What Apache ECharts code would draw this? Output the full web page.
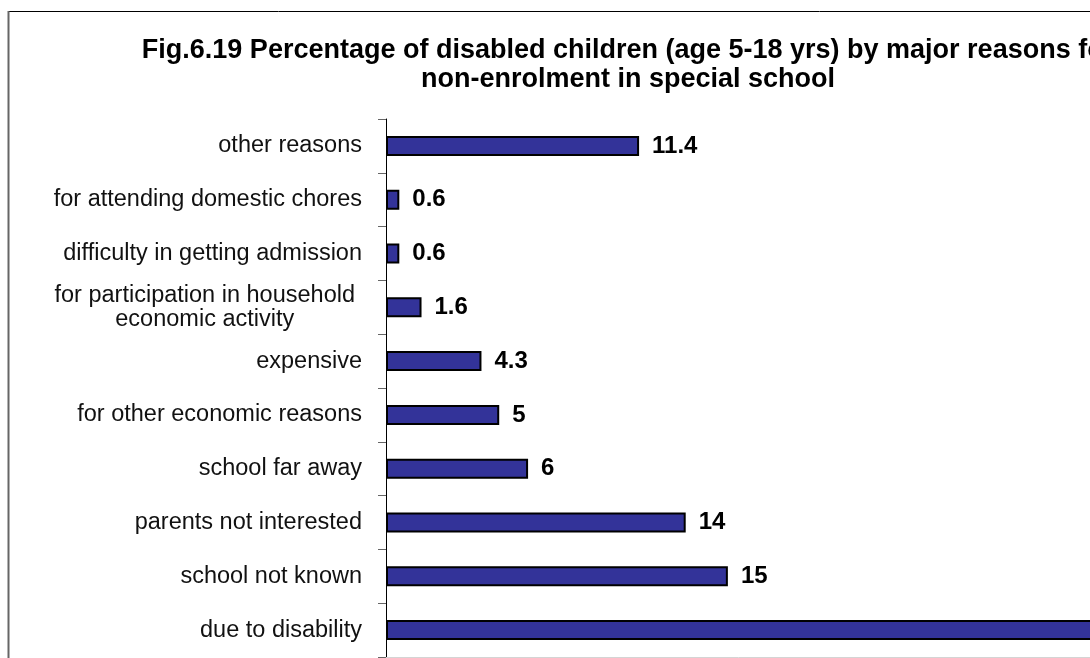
<!DOCTYPE html>
<html>
<head>
<meta charset="utf-8">
<script src="https://cdn.jsdelivr.net/npm/echarts@6/dist/echarts.min.js"></script>
<style>
html,body{margin:0;padding:0;background:#fff;}
#chart{width:1090px;height:658px;}
</style>
</head>
<body>
<div id="chart"></div>
<script>
// Categories listed bottom-to-top (ECharts category axis order for horizontal bars)
var categories = [
  'due to disability',
  'school not known',
  'parents not interested',
  'school far away',
  'for other economic reasons',
  'expensive',
  'for participation in household\neconomic activity',
  'difficulty in getting admission',
  'for attending domestic chores',
  'other reasons'
];
// Bar lengths
var values = [41.1, 15.4, 13.5, 6.4, 5.1, 4.3, 1.6, 0.6, 0.6, 11.4];
// Printed value labels
var valueLabels = ['41', '15', '14', '6', '5', '4.3', '1.6', '0.6', '0.6', '11.4'];
var titleText = 'Fig.6.19 Percentage of disabled children (age 5-18 yrs) by major reasons for\nnon-enrolment in special school';

var FONT = '"Liberation Sans", Arial, sans-serif';
var chart = echarts.init(document.getElementById('chart'));
chart.setOption({
  animation: false,
  backgroundColor: '#ffffff',
  title: {
    text: titleText,
    left: 628,
    top: 36,
    padding: 0,
    textAlign: 'center',
    textStyle: {
      fontFamily: FONT,
      fontSize: 27,
      fontWeight: 'bold',
      color: '#000',
      lineHeight: 29
    }
  },
  graphic: [
    { type: 'line', shape: { x1: 8, y1: 11.5, x2: 1090, y2: 11.5 }, style: { stroke: '#000', lineWidth: 1 }, silent: true },
    { type: 'line', shape: { x1: 8.5, y1: 11, x2: 8.5, y2: 658 }, style: { stroke: '#666', lineWidth: 2 }, silent: true }
  ],
  grid: {
    left: 386,
    top: 119,
    width: 999,
    height: 538,
    containLabel: false,
    outerBoundsMode: 'none'
  },
  xAxis: {
    type: 'value',
    min: 0,
    max: 45,
    axisLine: { show: true, lineStyle: { color: '#d4d4d4', width: 1 } },
    axisTick: { show: false },
    axisLabel: { show: false },
    splitLine: { show: false }
  },
  yAxis: {
    type: 'category',
    data: categories,
    axisLine: { show: true, lineStyle: { color: '#000', width: 1 } },
    axisTick: { show: true, length: 8, lineStyle: { color: '#666', width: 1 } },
    axisLabel: {
      margin: 24,
      fontFamily: FONT,
      fontSize: 23.5,
      color: '#111',
      formatter: function (v) {
        if (v.indexOf('\n') < 0) return v;
        return v.split('\n').map(function (s) { return '{c|' + s + '}'; }).join('\n');
      },
      rich: {
        c: { align: 'center', fontFamily: FONT, fontSize: 23.5, color: '#111', lineHeight: 24, padding: [0, 7, 0, 0] }
      }
    }
  },
  series: [{
    type: 'bar',
    data: values,
    barWidth: 20,
    itemStyle: { color: '#333399', borderColor: '#000', borderWidth: 2 },
    label: {
      show: true,
      position: 'right',
      distance: 13,
      fontFamily: FONT,
      fontSize: 24,
      fontWeight: 'bold',
      color: '#000',
      formatter: function (p) { return valueLabels[p.dataIndex]; }
    }
  }]
});
</script>
</body>
</html>
